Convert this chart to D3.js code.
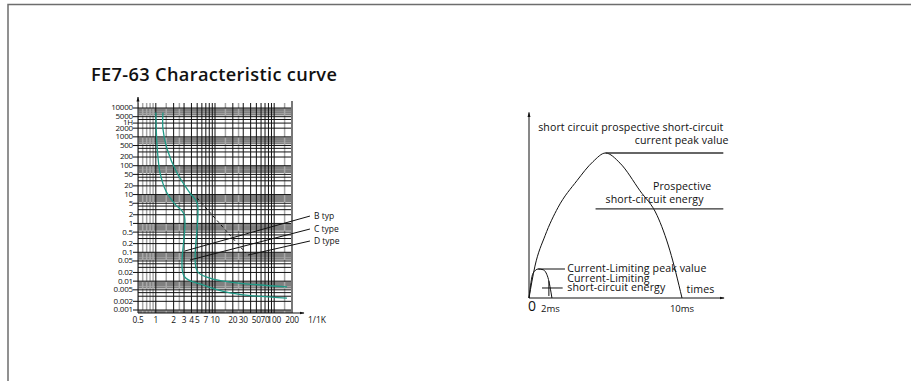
<!DOCTYPE html>
<html>
<head>
<meta charset="utf-8">
<script src="https://cdn.jsdelivr.net/npm/d3@7"></script>
<style>
  body { margin: 0; background: #fff; }
  svg { display: block; font-family: "Open Sans", "Noto Sans", sans-serif; }
</style>
</head>
<body>
<svg id="chart" width="911" height="381"></svg>
<script>
// ---- left: time / current characteristic (log-log) ----
const yTickValues = [10000, 5000, 3000, 2000, 1000, 500, 200, 100, 50, 20, 10, 5, 2, 1, 0.5, 0.2, 0.1, 0.05, 0.02, 0.01, 0.005, 0.002, 0.001];
const yTickLabels = ['10000', '5000', '1H', '2000', '1000', '500', '200', '100', '50', '20', '10', '5', '2', '1', '0.5', '0.2', '0.1', '0.05', '0.02', '0.01', '0.005', '0.002', '0.001'];
const xTickValues = [0.5, 1, 2, 3, 4, 5, 7, 10, 20, 30, 50, 70, 100, 200];
const xTickLabels = ['0.5', '1', '2', '3', '4', '5', '7', '10', '20', '30', '50', '70', '100', '200'];

// [multiple of In, seconds]
const curveB = [[1.0, 7000], [1.05, 480], [1.18, 56], [1.49, 13], [2.1, 4.7], [3, 2.1], [3, 0.015], [5.6, 0.008], [18, 0.0039], [165, 0.0026]];
const curveC = [[1.32, 7000], [1.32, 1870], [1.55, 380], [2.28, 56], [3.78, 11.3], [5, 5.1], [5, 0.0225], [8.2, 0.0128], [18, 0.0093], [165, 0.0063]];

const typeLabels = ['B typ', 'C type', 'D type'];
const leaderFrom = [[402, 1.8], [402, 0.64], [402, 0.246]];
const leaderTo = [[3.11, 0.111], [3.78, 0.054], [36, 0.08]];
const dashedGuide = [[5, 7.6], [33, 0.095]];

// ---- right: current limiting sketch ----
// [ms, % of prospective peak]
const prospective = [[0, 0], [0.39, 22], [1.05, 43], [1.9, 62.5], [3.14, 81], [4.18, 94], [5, 100], [5.95, 93], [7.25, 74], [8.37, 57], [9.2, 33], [10, 0]];
const limiting = [[0, 0], [0.26, 17], [0.6, 20], [0.92, 19.5], [1.24, 14], [1.5, 0]];
const timeTicks = [0, 1.4, 10];
const timeLabels = ['0', '2ms', '10ms'];

const svg = d3.select('#chart');
const teal = '#1f9a87';

// page frame
svg.append('path')
    .attr('d', 'M8,381 V4.5 H911')
    .attr('fill', 'none')
    .attr('stroke', '#6d6d6d')
    .attr('stroke-width', 1.5);

svg.append('text')
    .attr('x', 91)
    .attr('y', 81)
    .attr('font-size', 18.2)
    .attr('font-weight', 600)
    .attr('letter-spacing', 0.35)
    .attr('fill', '#111')
    .text('FE7-63  Characteristic curve');

const defs = svg.append('defs');
defs.append('marker')
    .attr('id', 'arrow')
    .attr('viewBox', '0 0 10 10')
    .attr('refX', 9).attr('refY', 5)
    .attr('markerWidth', 5).attr('markerHeight', 5)
    .attr('orient', 'auto')
    .append('path')
    .attr('d', 'M0,2 L10,5 L0,8 z')
    .attr('fill', '#111');

// ---------- left chart ----------
const x = d3.scaleLog().domain([0.5, 200]).range([138, 292]);
const y = d3.scaleLog().domain([0.001, 10000]).range([310, 108]);
const gridTop = 103, gridBottom = 313;

defs.append('clipPath').attr('id', 'gridclip')
    .append('rect')
    .attr('x', x(0.5)).attr('y', gridTop)
    .attr('width', x(200) - x(0.5)).attr('height', gridBottom - gridTop);

const grid = svg.append('g').attr('clip-path', 'url(#gridclip)');

const hLines = [];
for (let k = -4; k <= 4; k++) {
    for (let m = 1; m <= 9; m++) {
        hLines.push({ v: m * Math.pow(10, k), dark: m <= 5 });
    }
}
const vLines = [];
for (let k = -1; k <= 2; k++) {
    for (let m = 1; m <= 9; m += 0.5) {
        const v = m * Math.pow(10, k);
        if (Number.isInteger(m)) vLines.push({ v: v, dark: v >= 1 });
        else if (m === 1.5 || m === 2.5) vLines.push({ v: v, dark: false });
    }
}

grid.selectAll('line.h')
    .data(hLines.filter(d => !d.dark))
    .join('line')
    .attr('class', 'h')
    .attr('x1', x(0.5)).attr('x2', x(200))
    .attr('y1', d => y(d.v)).attr('y2', d => y(d.v))
    .attr('stroke', '#808080')
    .attr('stroke-width', 2);
grid.selectAll('line.v')
    .data(vLines.filter(d => !d.dark))
    .join('line')
    .attr('class', 'v')
    .attr('y1', gridTop).attr('y2', gridBottom)
    .attr('x1', d => x(d.v)).attr('x2', d => x(d.v))
    .attr('stroke', '#a8a8a8')
    .attr('stroke-width', 1.5);
grid.selectAll('line.hd')
    .data(hLines.filter(d => d.dark))
    .join('line')
    .attr('class', 'hd')
    .attr('x1', x(0.5)).attr('x2', x(200))
    .attr('y1', d => y(d.v)).attr('y2', d => y(d.v))
    .attr('stroke', '#111')
    .attr('stroke-width', 1);
grid.selectAll('line.vd')
    .data(vLines.filter(d => d.dark))
    .join('line')
    .attr('class', 'vd')
    .attr('y1', gridTop).attr('y2', gridBottom)
    .attr('x1', d => x(d.v)).attr('x2', d => x(d.v))
    .attr('stroke', '#111')
    .attr('stroke-width', 1);
// right border of the grid
svg.append('line')
    .attr('x1', x(200)).attr('x2', x(200))
    .attr('y1', gridTop - 2).attr('y2', gridBottom)
    .attr('stroke', '#777').attr('stroke-width', 2);

// axes
svg.append('line')
    .attr('x1', x(0.5)).attr('x2', x(0.5))
    .attr('y1', gridBottom).attr('y2', gridTop - 6)
    .attr('stroke', '#111').attr('stroke-width', 1)
    .attr('marker-end', 'url(#arrow)');
svg.append('line')
    .attr('x1', x(0.5)).attr('x2', x(200) + 12)
    .attr('y1', gridBottom).attr('y2', gridBottom)
    .attr('stroke', '#111').attr('stroke-width', 1)
    .attr('marker-end', 'url(#arrow)');

const yTicks = svg.append('g')
    .selectAll('g')
    .data(yTickValues)
    .join('g')
    .attr('transform', d => `translate(0,${y(d)})`);
yTicks.append('line')
    .attr('x1', x(0.5) - 5).attr('x2', x(0.5))
    .attr('stroke', '#111');
yTicks.append('text')
    .attr('x', x(0.5) - 5)
    .attr('dy', '0.3em')
    .attr('text-anchor', 'end')
    .attr('font-size', 8)
    .attr('letter-spacing', -0.2)
    .attr('fill', '#111')
    .text((d, i) => yTickLabels[i]);

svg.append('g')
    .selectAll('text')
    .data(xTickValues)
    .join('text')
    .attr('x', d => x(d))
    .attr('y', gridBottom + 10)
    .attr('text-anchor', 'middle')
    .attr('font-size', 8.3)
    .attr('letter-spacing', -0.2)
    .attr('fill', '#111')
    .text((d, i) => xTickLabels[i]);
svg.append('text')
    .attr('x', x(200) + 16)
    .attr('y', gridBottom + 10)
    .attr('font-size', 8.5)
    .attr('fill', '#111')
    .text('1/1K');

const tripLine = d3.line()
    .x(d => x(d[0]))
    .y(d => y(d[1]))
    .curve(d3.curveCatmullRom.alpha(0.5));

svg.selectAll('path.trip')
    .data([curveB, curveC])
    .join('path')
    .attr('class', 'trip')
    .attr('d', tripLine)
    .attr('fill', 'none')
    .attr('stroke', teal)
    .attr('stroke-width', 1.3);

svg.append('line')
    .attr('x1', x(dashedGuide[0][0])).attr('y1', y(dashedGuide[0][1]))
    .attr('x2', x(dashedGuide[1][0])).attr('y2', y(dashedGuide[1][1]))
    .attr('stroke', '#111')
    .attr('stroke-dasharray', '3,3');

svg.selectAll('line.leader')
    .data(typeLabels)
    .join('line')
    .attr('class', 'leader')
    .attr('x1', (d, i) => x(leaderFrom[i][0])).attr('y1', (d, i) => y(leaderFrom[i][1]))
    .attr('x2', (d, i) => x(leaderTo[i][0])).attr('y2', (d, i) => y(leaderTo[i][1]))
    .attr('stroke', '#111')
    .attr('stroke-width', 1);

svg.selectAll('text.type')
    .data(typeLabels)
    .join('text')
    .attr('class', 'type')
    .attr('x', (d, i) => x(leaderFrom[i][0]) + 4)
    .attr('y', (d, i) => y(leaderFrom[i][1]) + 3)
    .attr('font-size', 8.5)
    .attr('fill', '#111')
    .text(d => d);

// ---------- right chart ----------
const t = d3.scaleLinear().domain([0, 10]).range([529, 682]);
const a = d3.scaleLinear().domain([0, 100]).range([298, 153]);

svg.append('line')
    .attr('x1', t(0)).attr('x2', t(0))
    .attr('y1', a(0)).attr('y2', a(128))
    .attr('stroke', '#111')
    .attr('marker-end', 'url(#arrow)');
svg.append('line')
    .attr('x1', t(0)).attr('x2', t(12.75))
    .attr('y1', a(0)).attr('y2', a(0))
    .attr('stroke', '#111')
    .attr('marker-end', 'url(#arrow)');

const waveLine = d3.line()
    .x(d => t(d[0]))
    .y(d => a(d[1]))
    .curve(d3.curveMonotoneX);

svg.selectAll('path.wave')
    .data([prospective, limiting])
    .join('path')
    .attr('class', 'wave')
    .attr('d', waveLine)
    .attr('fill', 'none')
    .attr('stroke', '#111')
    .attr('stroke-width', 1);

// annotation lines
const guides = [
    [[5, 100], [12.7, 100]],
    [[4.35, 61.5], [12.7, 61.5]],
    [[0.6, 20], [2.35, 20]],
    [[0.85, 6.9], [2.2, 6.9]],
    [[1.3, 11.7], [1.3, 1.4]]
];
svg.selectAll('line.guide')
    .data(guides)
    .join('line')
    .attr('class', 'guide')
    .attr('x1', d => t(d[0][0])).attr('y1', d => a(d[0][1]))
    .attr('x2', d => t(d[1][0])).attr('y2', d => a(d[1][1]))
    .attr('stroke', d => d[0][1] > 50 ? '#333' : '#111')
    .attr('stroke-width', d => d[0][1] > 50 ? 1.3 : 1);

const notes = [
    { text: 'short circuit prospective short-circuit', at: [0.6, 115], anchor: 'start' },
    { text: 'current peak value', at: [13.05, 106.5], anchor: 'end' },
    { text: 'Prospective', at: [8.1, 74.5], anchor: 'start' },
    { text: 'short-circuit energy', at: [5.0, 65.5], anchor: 'start' },
    { text: 'Current-Limiting peak value', at: [2.5, 18.2], anchor: 'start' },
    { text: 'Current-Limiting', at: [2.5, 11.2], anchor: 'start' },
    { text: 'short-circuit energy', at: [2.5, 5], anchor: 'start' },
    { text: 'times', at: [10.3, 3.5], anchor: 'start' }
];
svg.selectAll('text.note')
    .data(notes)
    .join('text')
    .attr('class', 'note')
    .attr('x', d => t(d.at[0]))
    .attr('y', d => a(d.at[1]))
    .attr('text-anchor', d => d.anchor)
    .attr('font-size', 10.6)
    .attr('letter-spacing', 0.1)
    .attr('fill', '#111')
    .text(d => d.text);

svg.selectAll('text.tick')
    .data(timeTicks)
    .join('text')
    .attr('class', 'tick')
    .attr('x', d => t(d) + (d === 0 ? 3 : 0))
    .attr('y', (d, i) => a(0) + (i === 0 ? 13 : 14))
    .attr('text-anchor', 'middle')
    .attr('font-size', (d, i) => i === 0 ? 14 : 9.5)
    .attr('fill', '#111')
    .text((d, i) => timeLabels[i]);
</script>
</body>
</html>
